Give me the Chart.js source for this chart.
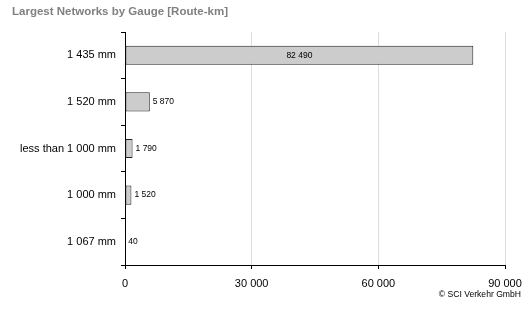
<!DOCTYPE html>
<html>
<head>
<meta charset="utf-8">
<script src="https://cdn.jsdelivr.net/npm/chart.js@4"></script>
<style>
  html, body { margin: 0; padding: 0; background: #fff; }
  #wrap { width: 528px; height: 313px; }
</style>
</head>
<body>
<div id="wrap"><canvas id="myChart" width="528" height="313"></canvas></div>
<script>
const gauges = ['1 435 mm', '1 520 mm', 'less than 1 000 mm', '1 000 mm', '1 067 mm'];
const routeKm = [82490, 5870, 1790, 1520, 40];
const xTicks = [0, 30000, 60000, 90000];

// space as thousands separator, like "82 490"
function fmt(v) {
    return String(v).replace(/\B(?=(\d{3})+(?!\d))/g, ' ');
}

const FONT = "'Liberation Sans', Arial, Helvetica, sans-serif";

// title, footer and value labels
const extras = {
    id: 'extras',
    afterDraw(chart) {
        const ctx = chart.ctx;
        ctx.save();
        ctx.font = 'bold 11.5px ' + FONT;
        ctx.fillStyle = '#808080';
        ctx.textAlign = 'left';
        ctx.textBaseline = 'middle';
        ctx.fillText('Largest Networks by Gauge [Route-km]', 12, 12);

        ctx.font = '8.6px ' + FONT;
        ctx.fillStyle = '#000';
        ctx.textAlign = 'right';
        ctx.fillText('\u00A9 SCI Verkehr GmbH', 521, 295);

        ctx.font = '8.5px ' + FONT;
        const meta = chart.getDatasetMeta(0);
        meta.data.forEach((bar, i) => {
            const v = routeKm[i];
            const txt = fmt(v);
            const w = bar.x - bar.base;
            const tw = ctx.measureText(txt).width;
            ctx.textAlign = 'left';
            if (w > tw + 10) {
                ctx.textAlign = 'center';
                ctx.fillText(txt, (bar.x + bar.base) / 2, bar.y);
            } else {
                ctx.fillText(txt, bar.x + 3, bar.y);
            }
        });
        ctx.restore();
    }
};

const ctx = document.getElementById('myChart').getContext('2d');
const myChart = new Chart(ctx, {
    type: 'bar',
    data: {
        labels: gauges,
        datasets: [{
            data: routeKm,
            backgroundColor: '#cccccc',
            borderColor: '#222222',
            borderWidth: 1,
            borderSkipped: false,
            barPercentage: 0.41,
            categoryPercentage: 1
        }]
    },
    options: {
        indexAxis: 'y',
        responsive: false,
        animation: false,
        layout: { padding: { left: 0, right: 23, top: 32, bottom: 0 } },
        plugins: {
            legend: { display: false },
            tooltip: { enabled: false }
        },
        scales: {
            x: {
                min: 0,
                max: 90000,
                afterBuildTicks(scale) {
                    scale.ticks = xTicks.map(v => ({ value: v }));
                },
                afterFit(scale) {
                    scale.height = 48;
                    scale.paddingLeft = 0;
                    scale.paddingRight = 0;
                },
                ticks: {
                    color: '#000',
                    font: { family: FONT, size: 11 },
                    padding: 8,
                    maxRotation: 0,
                    callback: v => fmt(v)
                },
                grid: {
                    color: ctx => ctx.tick && ctx.tick.value === 0 ? 'rgba(0,0,0,0)' : '#dddddd',
                    tickColor: '#000',
                    tickLength: 4
                },
                border: { color: '#000', width: 1 }
            },
            y: {
                afterFit(scale) { scale.width = 125; },
                ticks: {
                    color: '#000',
                    font: { family: FONT, size: 11 },
                    padding: 5
                },
                grid: {
                    offset: true,
                    drawOnChartArea: false,
                    tickColor: '#000',
                    tickLength: 4
                },
                border: { color: '#000', width: 1 }
            }
        }
    },
    plugins: [extras]
});
</script>
</body>
</html>
